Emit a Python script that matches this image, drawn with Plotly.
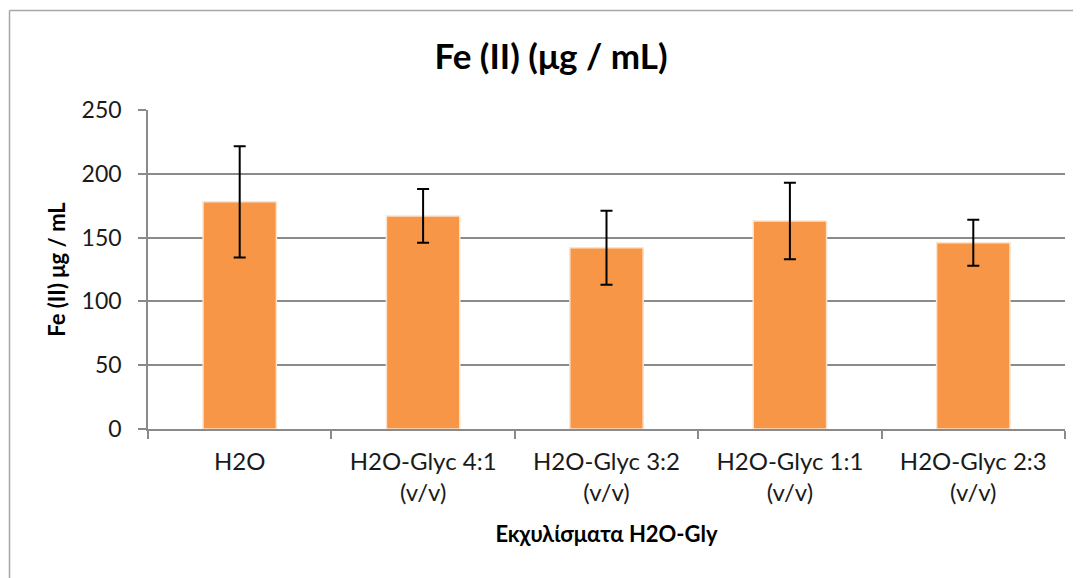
import plotly.graph_objects as go

categories = ["H2O", "H2O-Glyc 4:1<br>(v/v)", "H2O-Glyc 3:2<br>(v/v)", "H2O-Glyc 1:1<br>(v/v)", "H2O-Glyc 2:3<br>(v/v)"]
values = [178, 167, 142, 163, 146]
errors = [43.5, 21, 29, 30, 18]
y_ticks = [0, 50, 100, 150, 200, 250]

# page body has an 8px margin; target absolute plot area x:148-1065, y:110-429
OFF = 8
W, H = 1081 - OFF, 578 - OFF
X0, X1, Y0, Y1 = 148, 1065, 110, 429
L, R, T, B = X0 - OFF, (W + OFF) - X1, Y0 - OFF, (H + OFF) - Y1
pw = X1 - X0
ph = Y1 - Y0

fig = go.Figure(go.Bar(
    x=categories, y=values,
    marker=dict(color="#F79646", line=dict(color="#FBE3CE", width=1.5)),
    width=0.4,
    error_y=dict(type="data", array=errors, visible=True, color="#000000", thickness=2, width=6),
))

gray = "#8a8a8a"
fig.update_layout(
    width=W, height=H,
    margin=dict(l=L, r=R, t=T, b=B),
    paper_bgcolor="white", plot_bgcolor="white",
    font=dict(family="Lato", color="#000000"),
    showlegend=False,
    title=dict(text="<b>Fe (II) (μg / mL)</b>", x=(551 - OFF) / W, xanchor="center",
               y=1 - (57 - OFF) / H, yanchor="middle",
               font=dict(size=35, family="Lato", color="#000000")),
    xaxis=dict(
        showline=True, linecolor=gray, linewidth=1.5,
        ticks="outside", tickson="boundaries", ticklen=8, tickcolor=gray, tickwidth=1.5,
        tickfont=dict(size=24, color="#1a1a1a"), ticklabelstandoff=10,
        title=dict(text="<b>Εκχυλίσματα H2O-Gly</b>", font=dict(size=22), standoff=22),
        showgrid=False,
    ),
    yaxis=dict(
        range=[0, 250], tickvals=y_ticks,
        showline=True, linecolor=gray, linewidth=1.5,
        ticks="outside", ticklen=8, tickcolor=gray, tickwidth=1.5,
        tickfont=dict(size=23, color="#1a1a1a"), ticklabelstandoff=12,
        showgrid=True, gridcolor=gray, gridwidth=1.5,
        zeroline=False,
        title=dict(text="<b>Fe (II) μg / mL</b>", font=dict(size=22), standoff=10),
    ),
)

# outer chart border (top and left visible)
bx = (9.5 - X0) / pw
by = (Y1 - 10.5) / ph
fig.add_shape(type="line", xref="paper", yref="paper", x0=bx, x1=1.2, y0=by, y1=by,
              line=dict(color="#a6a6a6", width=1.5))
fig.add_shape(type="line", xref="paper", yref="paper", x0=bx, x1=bx, y0=by, y1=-0.6,
              line=dict(color="#a6a6a6", width=1.5))

fig.write_html("out.html")
